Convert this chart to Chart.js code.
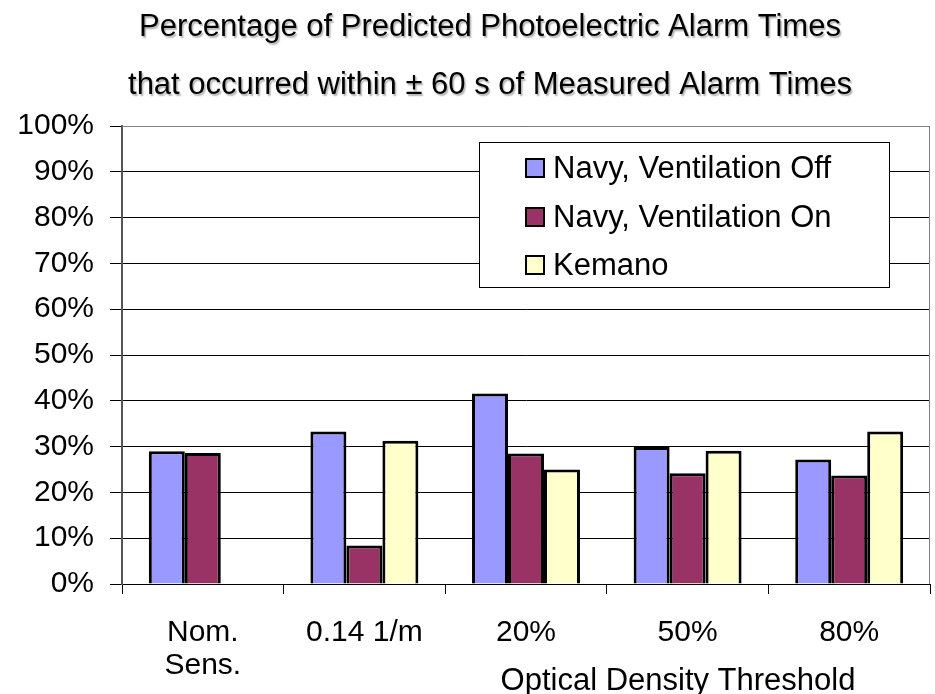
<!DOCTYPE html>
<html>
<head>
<meta charset="utf-8">
<script src="https://cdn.jsdelivr.net/npm/chart.js@4.4.0/dist/chart.umd.min.js"></script>
<style>
  html, body { margin: 0; padding: 0; background: #fff; }
  canvas { display: block; }
</style>
</head>
<body>
<canvas id="alarmChart" width="935" height="694"></canvas>
<script>
//-- Data
var categories = [["Nom.", "Sens."], "0.14 1/m", "20%", "50%", "80%"];
var navyVentOff = [29.0, 33.3, 41.6, 29.9, 27.2];
var navyVentOn = [28.6, 8.4, 28.5, 24.2, 23.7];
var kemano = [null, 31.3, 25.0, 29.1, 33.3];
var yTicks = [0, 10, 20, 30, 40, 50, 60, 70, 80, 90, 100];

var titleLines = [
    "Percentage of Predicted Photoelectric Alarm Times",
    "that occurred within \u00b1 60 s of Measured Alarm Times"
];
var xAxisTitle = "Optical Density Threshold";

var fontFamily = "'Liberation Sans', Arial, sans-serif";

//Draws the white page, the two line heading, the axis caption and the boxed legend
var decorations = {
    id: "decorations",
    beforeDraw: function(chart) {
        let ctx = chart.ctx;
        ctx.save();
        ctx.fillStyle = "#fff";
        ctx.fillRect(0, 0, chart.width, chart.height);
        ctx.restore();
    },
    afterDraw: function(chart) {
        let ctx = chart.ctx;
        let area = chart.chartArea;
        ctx.save();

        //grey frame on the top and right of the plot
        ctx.strokeStyle = "#808080";
        ctx.lineWidth = 1;
        ctx.beginPath();
        ctx.moveTo(area.left, area.top + 0.5);
        ctx.lineTo(area.right - 0.5, area.top + 0.5);
        ctx.lineTo(area.right - 0.5, area.bottom);
        ctx.stroke();

        //heading with a light drop shadow
        ctx.font = "31px " + fontFamily;
        ctx.textAlign = "center";
        ctx.textBaseline = "alphabetic";
        ctx.shadowColor = "rgba(0,0,0,0.3)";
        ctx.shadowOffsetX = 1.5;
        ctx.shadowOffsetY = 1.5;
        ctx.shadowBlur = 1.5;
        ctx.fillStyle = "#000";
        ctx.fillText(titleLines[0], 490, 36);
        ctx.fillText(titleLines[1], 490, 94);
        ctx.shadowColor = "transparent";

        //caption under the threshold labels
        ctx.font = "31px " + fontFamily;
        ctx.textBaseline = "middle";
        ctx.fillText(xAxisTitle, 678, 681);

        //legend box
        let lx = 479, ly = 142, lw = 410, lh = 145;
        ctx.fillStyle = "#fff";
        ctx.fillRect(lx, ly, lw, lh);
        ctx.strokeStyle = "#000";
        ctx.lineWidth = 1;
        ctx.strokeRect(lx + 0.5, ly + 0.5, lw, lh);

        ctx.textAlign = "left";
        ctx.font = "31px " + fontFamily;
        let rowY = [168, 217, 265];
        chart.data.datasets.forEach(function(ds, i) {
            let y = rowY[i];
            ctx.fillStyle = ds.backgroundColor;
            ctx.fillRect(526, y - 9, 18, 18);
            ctx.lineWidth = 2;
            ctx.strokeStyle = "#000";
            ctx.strokeRect(526, y - 9, 18, 18);
            ctx.fillStyle = "#000";
            ctx.fillText(ds.label, 553, y + 1);
        });
        ctx.restore();
    }
};

var chart = new Chart(document.getElementById("alarmChart"), {
    type: "bar",
    data: {
        labels: categories,
        datasets: [{
            label: "Navy, Ventilation Off",
            data: navyVentOff,
            backgroundColor: "#9999ff",
            borderColor: "#000",
            borderWidth: 3
        }, {
            label: "Navy, Ventilation On",
            data: navyVentOn,
            backgroundColor: "#993366",
            borderColor: "#000",
            borderWidth: 3
        }, {
            label: "Kemano",
            data: kemano,
            backgroundColor: "#ffffcc",
            borderColor: "#000",
            borderWidth: 3
        }]
    },
    options: {
        responsive: false,
        animation: false,
        devicePixelRatio: 1,
        layout: {
            padding: { left: 0, top: 126, right: 5, bottom: 0 }
        },
        plugins: {
            legend: { display: false },
            title: { display: false },
            tooltip: { enabled: false }
        },
        datasets: {
            bar: {
                categoryPercentage: 0.668,
                barPercentage: 1.0
            }
        },
        scales: {
            x: {
                offset: true,
                grid: {
                    offset: true,
                    drawOnChartArea: false,
                    drawTicks: true,
                    tickLength: 10,
                    color: "#000"
                },
                border: { display: true, color: "#000", width: 1 },
                ticks: {
                    color: "#000",
                    padding: 22,
                    maxRotation: 0,
                    font: { family: fontFamily, size: 30, lineHeight: 1.1 }
                },
                afterFit: function(scale) {
                    scale.height = 110;
                }
            },
            y: {
                min: 0,
                max: 100,
                afterBuildTicks: function(scale) {
                    scale.ticks = yTicks.map(function(v) { return { value: v }; });
                },
                grid: {
                    color: "#000",
                    lineWidth: 1,
                    tickLength: 12
                },
                border: { display: true, color: "#555", width: 2 },
                ticks: {
                    color: "#000",
                    padding: 16,
                    font: { family: fontFamily, size: 30 },
                    callback: function(v) { return v + "%"; }
                },
                afterFit: function(scale) {
                    scale.width = 122;
                }
            }
        }
    },
    plugins: [decorations]
});
</script>
</body>
</html>
